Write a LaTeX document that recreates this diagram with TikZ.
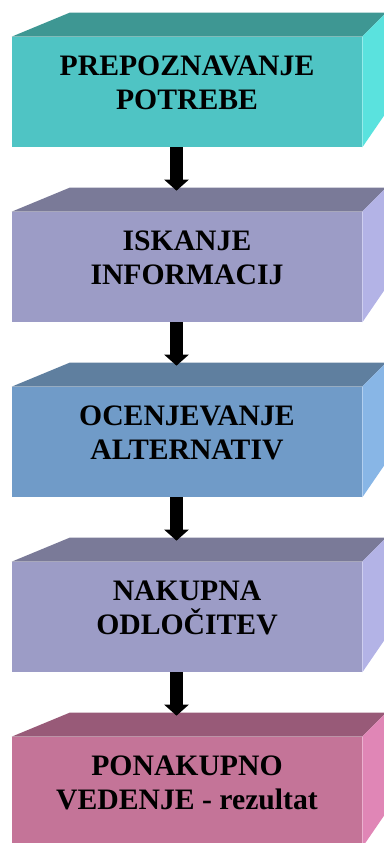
\documentclass[tikz,border=0pt]{standalone}
\usepackage{fontspec}
\setmainfont{Liberation Serif}
\usetikzlibrary{arrows.meta}
\definecolor{tealfront}{HTML}{4FC4C4}
\definecolor{tealtop}{HTML}{3E9793}
\definecolor{tealside}{HTML}{5AE2DE}
\definecolor{lilacfront}{HTML}{9C9CC6}
\definecolor{lilactop}{HTML}{7A7A98}
\definecolor{lilacside}{HTML}{B3B3E6}
\definecolor{bluefront}{HTML}{709BC8}
\definecolor{bluetop}{HTML}{5F7F9F}
\definecolor{blueside}{HTML}{88B6E6}
\definecolor{rosefront}{HTML}{C47498}
\definecolor{rosetop}{HTML}{985A78}
\definecolor{roseside}{HTML}{E086B6}
\tikzset{
    facebox/.style={rectangle,inner sep=0pt,minimum width=7cm,minimum height=2.2cm,fill=#1},
    boxtext/.style={align=center,inner sep=0pt,font=\bfseries\fontsize{16.9}{19.3}\selectfont},
    downarrow/.style={line width=0.26cm,-{Triangle[width=0.48cm,length=0.22cm]}},
}
\begin{document}
\begin{tikzpicture}[x=0.02cm,y=-0.02cm]
\useasboundingbox (0,0) rectangle (384,843);
\clip (0,0) rectangle (384,843);
\node[facebox=tealfront] (prepoznavanje) at (187,92) {};
\node[facebox=lilacfront] (iskanje) at (187,267) {};
\node[facebox=bluefront] (ocenjevanje) at (187,442) {};
\node[facebox=lilacfront] (odlocitev) at (187,617) {};
\node[facebox=rosefront] (ponakupno) at (187,792) {};
% top and right faces in perspective
\foreach \name/\ctop/\cside in {prepoznavanje/tealtop/tealside,iskanje/lilactop/lilacside,ocenjevanje/bluetop/blueside,odlocitev/lilactop/lilacside,ponakupno/rosetop/roseside}{
    \fill[\ctop] (\name.north west) -- ++(58,-24) -- ([shift={(24,-24)}]\name.north east) -- (\name.north east) -- cycle;
    \fill[\cside] (\name.north east) -- ++(24,-24) -- ([shift={(24,-35)}]\name.south east) -- (\name.south east) -- cycle;
}
\node[boxtext] (prepoznavanjetext) at ([shift={(0,-9)}]prepoznavanje.center) {PREPOZNAVANJE\\POTREBE};
\node[boxtext] (iskanjetext) at ([shift={(0,-9)}]iskanje.center) {ISKANJE\\INFORMACIJ};
\node[boxtext] (ocenjevanjetext) at ([shift={(0,-9)}]ocenjevanje.center) {OCENJEVANJE\\ALTERNATIV};
\node[boxtext] (odlocitevtext) at ([shift={(0,-9)}]odlocitev.center) {NAKUPNA\\ODLOČITEV};
\node[boxtext] (ponakupnotext) at ([shift={(0,-9)}]ponakupno.center) {PONAKUPNO\\VEDENJE - rezultat};
\draw[downarrow] ([shift={(-10.5,0)}]prepoznavanje.south) -- ([shift={(-10.5,-21)}]iskanje.north);
\draw[downarrow] ([shift={(-10.5,0)}]iskanje.south) -- ([shift={(-10.5,-21)}]ocenjevanje.north);
\draw[downarrow] ([shift={(-10.5,0)}]ocenjevanje.south) -- ([shift={(-10.5,-21)}]odlocitev.north);
\draw[downarrow] ([shift={(-10.5,0)}]odlocitev.south) -- ([shift={(-10.5,-21)}]ponakupno.north);
\end{tikzpicture}
\end{document}
